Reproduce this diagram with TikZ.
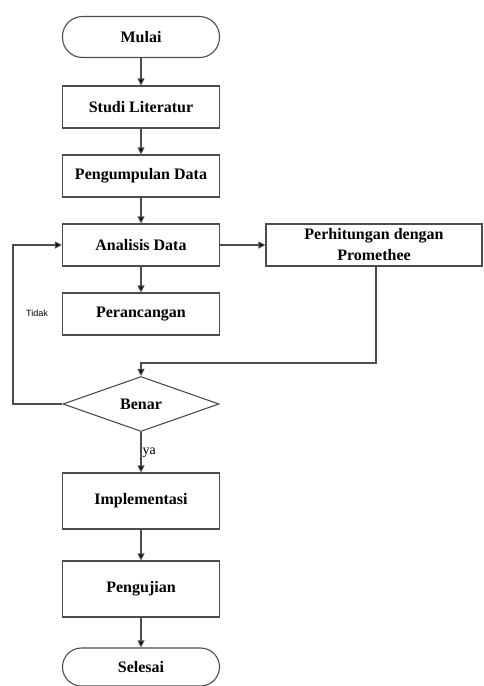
\documentclass[tikz,border=0pt]{standalone}
\usepackage{fontspec}
\setmainfont{Liberation Serif}
\newfontfamily\arialfont{Liberation Sans}
\usetikzlibrary{arrows.meta,shapes.geometric}

\tikzset{kotak/.style={rectangle,draw=black!70,line width=1.1pt,minimum width=157pt,minimum height=42pt,inner sep=2pt,font=\fontsize{16}{21}\selectfont\bfseries,align=center}}
\tikzset{ujung/.style={kotak,rounded corners=20pt,minimum height=41pt}}
\tikzset{belah/.style={diamond,draw=black!70,line width=1.1pt,minimum width=156pt,minimum height=55pt,inner sep=0pt,font=\fontsize{16}{21}\selectfont\bfseries}}
\tikzset{garis/.style={draw=black!70,line width=1.1pt,-{Triangle[length=7pt,width=7pt,fill=black]}}}

\begin{document}
\begin{tikzpicture}[x=1pt,y=-1pt]
 		\useasboundingbox (0,0) rectangle (483,686);

 		\node[ujung] (m) at (141,37) {Mulai};
 		\node[kotak] (s1) at (141,107) {Studi Literatur};
 		\node[kotak] (p1) at (141,176) {Pengumpulan Data};
 		\node[kotak] (a1) at (141,245) {Analisis Data};
 		\node[kotak,minimum width=216pt] (h1) at (374,245) {Perhitungan dengan\\Promethee};
 		\node[kotak] (r1) at (141,314) {Perancangan};
 		\node[belah] (b1) at (141,404) {Benar};
 		\node[kotak,minimum height=56pt] (i1) at (141,501) {Implementasi};
 		\node[kotak,minimum height=56pt] (u1) at (141,589) {Pengujian};
 		\node[ujung,minimum height=38pt,rounded corners=19pt] (sl) at (141,667) {Selesai};

 		\node[font=\arialfont\fontsize{9}{11}\selectfont] (t1) at (37,313) {Tidak};

 		\coordinate (k1) at (376,363);
 		\coordinate (k2) at (141,363);
 		\coordinate (k3) at (13,245);

 		\draw[garis] (m) -- (s1);
 		\draw[garis] (s1) -- (p1);
 		\draw[garis] (p1) -- (a1);
 		\draw[garis] (a1) -- (r1);
 		\draw[garis] (a1) -- (h1);

 		\draw[garis] (h1.south -| k1) -- (k1) -- (k2) -- (b1.north);
 		\draw[garis] (b1.west) -| (k3) -- (a1.west);

 		\draw[garis] (b1.south) -- node[right,inner sep=1pt,font=\fontsize{14}{16}\selectfont] (y1) {ya} (i1);
 		\draw[garis] (i1) -- (u1);
 		\draw[garis] (u1) -- (sl);
 	 \end{tikzpicture}
\end{document}
